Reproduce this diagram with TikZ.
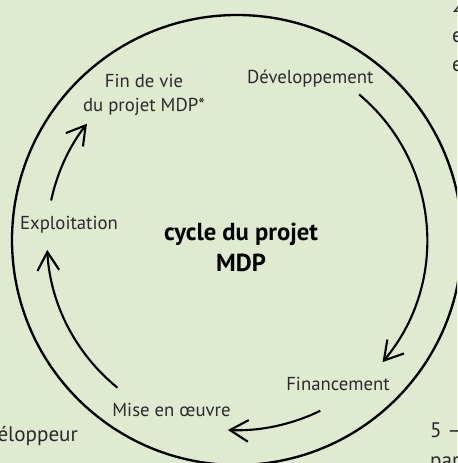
\documentclass[tikz,border=0pt]{standalone}
\usepackage{fontspec}
\setmainfont{PT Sans}
\usepackage{tikz}
\usetikzlibrary{arrows.meta, positioning}
\definecolor{fondvert}{HTML}{DFEAD0}
\definecolor{texte}{HTML}{2B2B2B}
\tikzset{
    etape/.style={
        font=\fontsize{16}{20.5}\selectfont, text=texte, align=center, inner sep=0pt, anchor=base
    },
    titre/.style={
        font=\fontsize{21}{27}\selectfont\bfseries, text=black, align=center, inner sep=0pt, anchor=base
    },
    marge/.style={
        font=\fontsize{18}{25.6}\selectfont, text=texte, align=left, inner sep=0pt
    },
    fleche/.style={
        line width=1.8pt, -{Straight Barb[length=5.5mm, width=6.5mm]}
    }
}

\begin{document}
\begin{tikzpicture}
    % fond
    \path[use as bounding box, fill=fondvert] (-7.11,-6.69) rectangle (6.6,7.2);
    \clip (-7.11,-6.69) rectangle (6.6,7.2);

    % grand cercle
    \draw[line width=2pt] (0,0) circle (6.75);

    % textes du cycle (base = derniere ligne)
    \node[titre] (cycle) at (0.12, -0.96) {cycle du projet\\MDP};
    \node[etape] (dev) at (2.2, 4.68) {Développement};
    \node[etape] (fin) at (3.03, -4.5) {Financement};
    \node[etape] (mise) at (-1.965, -5.28) {Mise en œuvre};
    \node[etape] (exploit) at (-5.04, 0.3) {Exploitation};
    \node[etape] (finvie) at (-2.79, 3.84) {Fin de vie\\du projet MDP*};

    % textes voisins, coupés au bord
    \node[marge, anchor=base west] (haut) at (6.45, 5.04) {2\\e\\e};
    \node[marge, anchor=base east] (gauche) at (-4.77, -6.03) {éloppeur};
    \node[marge, anchor=base west] (bas) at (5.79, -6.81) {5 –\\par};

    % départs des flèches
    \coordinate (dev-out) at (50:5.7);
    \coordinate (fin-out) at (-64:5.7);
    \coordinate (mise-out) at (231:5.7);
    \coordinate (exploit-out) at (168:5.7);

    \draw[fleche] (dev-out) arc[start angle=50, end angle=-40, radius=5.7];
    \draw[fleche] (fin-out) arc[start angle=-64, end angle=-92.5, radius=5.75];
    \draw[fleche] (mise-out) arc[start angle=231, end angle=183, radius=5.7];
    \draw[fleche] (exploit-out) arc[start angle=168, end angle=142, radius=5.65];
\end{tikzpicture}
\end{document}
